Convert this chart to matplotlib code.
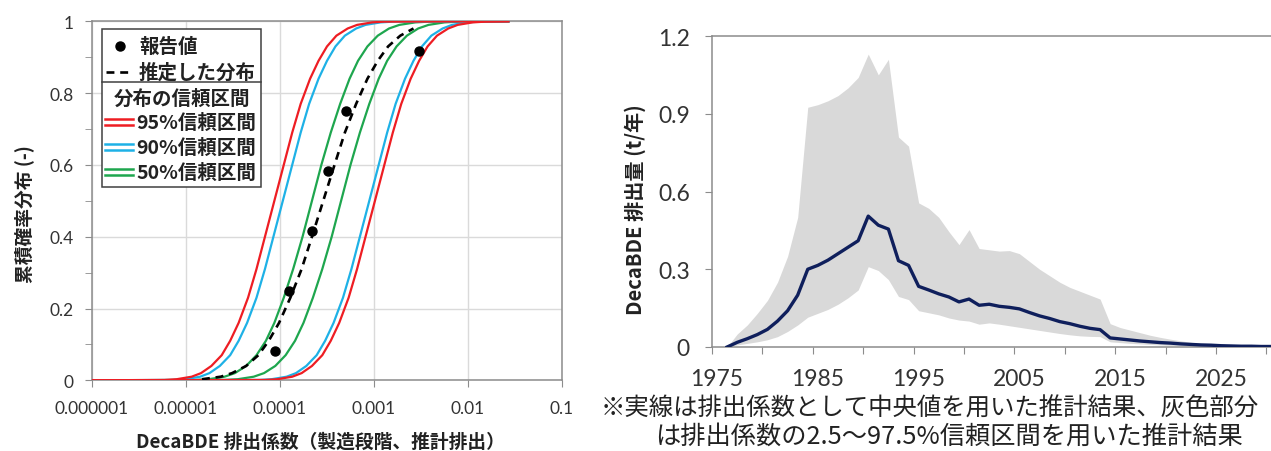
import numpy as np
import matplotlib.pyplot as plt
from matplotlib.patches import Rectangle
from matplotlib.ticker import NullLocator

plt.rcParams['font.family'] = ['Lato', 'Noto Sans CJK JP', 'DejaVu Sans']
JP = ['Noto Sans CJK JP', 'DejaVu Sans']

# ---- left chart: reported emission factors and fitted distribution ----
rep_x = [8.9e-5, 1.25e-4, 2.2e-4, 3.25e-4, 5.0e-4, 3.0e-3]
rep_p = [0.083, 0.25, 0.417, 0.583, 0.75, 0.917]

cdf_p = [0, 0.001, 0.003, 0.01, 0.02, 0.04, 0.07, 0.11, 0.16, 0.23, 0.31, 0.4, 0.5,
         0.6, 0.69, 0.77, 0.84, 0.89, 0.93, 0.96, 0.98, 0.99, 0.997, 0.999, 1]
# log10(emission factor) of each curve at those levels
red_lo = [-6, -5.23, -5.10, -4.94, -4.84, -4.73, -4.62, -4.53, -4.44, -4.34, -4.25, -4.16, -4.06,
          -3.96, -3.87, -3.78, -3.68, -3.59, -3.50, -3.40, -3.28, -3.18, -3.02, -2.89, -1.57]
blue_lo = [-6, -5.14, -5.01, -4.85, -4.75, -4.64, -4.53, -4.44, -4.35, -4.25, -4.16, -4.07, -3.97,
           -3.87, -3.78, -3.69, -3.59, -3.50, -3.41, -3.31, -3.19, -3.09, -2.93, -2.80, -1.57]
green_lo = [-6, -4.90, -4.76, -4.59, -4.48, -4.36, -4.25, -4.15, -4.06, -3.96, -3.86, -3.76, -3.66,
            -3.56, -3.46, -3.36, -3.26, -3.17, -3.07, -2.96, -2.84, -2.73, -2.56, -2.42, -1.57]
fitted = [None, None, -4.83, -4.63, -4.51, -4.36, -4.23, -4.12, -4.01, -3.89, -3.77, -3.66, -3.54,
          -3.42, -3.31, -3.19, -3.07, -2.96, -2.85, -2.72, -2.58, None, None, None, None]
green_hi = [-6, -4.59, -4.45, -4.28, -4.17, -4.05, -3.94, -3.84, -3.75, -3.65, -3.55, -3.45, -3.35,
            -3.25, -3.15, -3.05, -2.95, -2.86, -2.76, -2.65, -2.53, -2.42, -2.25, -2.11, -1.57]
blue_hi = [-6, -4.22, -4.09, -3.93, -3.83, -3.72, -3.61, -3.52, -3.43, -3.33, -3.24, -3.15, -3.05,
           -2.95, -2.86, -2.77, -2.67, -2.58, -2.49, -2.39, -2.27, -2.17, -2.01, -1.88, -1.57]
red_hi = [-6, -4.16, -4.03, -3.87, -3.77, -3.66, -3.55, -3.46, -3.37, -3.27, -3.18, -3.09, -2.99,
          -2.89, -2.80, -2.71, -2.61, -2.52, -2.43, -2.33, -2.21, -2.11, -1.95, -1.82, -1.57]

x_ticks = [1e-6, 1e-5, 1e-4, 1e-3, 1e-2, 1e-1]
x_ticklabels = ['0.000001', '0.00001', '0.0001', '0.001', '0.01', '0.1']

# ---- right chart: yearly DecaBDE emission (t/year) ----
years = list(range(1976, 2031))
median = [0.0, 0.018, 0.032, 0.048, 0.068, 0.10, 0.14, 0.20, 0.30, 0.315,
          0.335, 0.36, 0.385, 0.41, 0.505, 0.47, 0.455, 0.333, 0.315, 0.234,
          0.22, 0.205, 0.193, 0.174, 0.185, 0.161, 0.165, 0.157, 0.153, 0.147,
          0.133, 0.12, 0.11, 0.098, 0.09, 0.08, 0.072, 0.067, 0.035, 0.031,
          0.027, 0.023, 0.02, 0.017, 0.015, 0.012, 0.01, 0.008, 0.007, 0.005,
          0.004, 0.003, 0.003, 0.002, 0.002]
upper = [0.0, 0.05, 0.085, 0.13, 0.18, 0.25, 0.35, 0.50, 0.925, 0.935,
         0.95, 0.97, 1.0, 1.04, 1.13, 1.05, 1.11, 0.81, 0.775, 0.556,
         0.535, 0.50, 0.445, 0.395, 0.453, 0.38, 0.375, 0.37, 0.372, 0.36,
         0.33, 0.30, 0.275, 0.25, 0.23, 0.215, 0.20, 0.185, 0.09, 0.075,
         0.065, 0.055, 0.045, 0.037, 0.03, 0.024, 0.018, 0.013, 0.01, 0.008,
         0.006, 0.005, 0.004, 0.003, 0.003]
lower = [0.0, 0.008, 0.014, 0.02, 0.028, 0.04, 0.06, 0.085, 0.115, 0.13,
         0.145, 0.165, 0.19, 0.22, 0.31, 0.295, 0.26, 0.195, 0.183, 0.14,
         0.132, 0.124, 0.112, 0.104, 0.10, 0.088, 0.093, 0.088, 0.082, 0.076,
         0.07, 0.064, 0.058, 0.052, 0.047, 0.043, 0.041, 0.04, 0.02, 0.017,
         0.014, 0.012, 0.01, 0.008, 0.006, 0.005, 0.004, 0.003, 0.002, 0.002,
         0.001, 0.001, 0.001, 0.001, 0.001]
year_labels = [1975, 1985, 1995, 2005, 2015, 2025]

W, H = 1271, 452
fig = plt.figure(figsize=(W / 100, H / 100), dpi=100)

RED, BLUE, GREEN = '#ee1d23', '#1eb1e6', '#1ea64e'
AXC = '#8c8c8c'

# ---------------- left chart ----------------
ax = fig.add_axes([92 / W, 1 - 381.3 / H, 470 / W, 359 / H])
ax.set_xscale('log')
p = np.array(cdf_p)
for curve, col, z in [(green_lo, GREEN, 2), (green_hi, GREEN, 2),
                      (blue_lo, BLUE, 3), (blue_hi, BLUE, 3),
                      (red_lo, RED, 4), (red_hi, RED, 4)]:
    ax.plot(np.power(10.0, curve), p, color=col, lw=1.6, zorder=z,
            solid_joinstyle='round')
fx = np.array([v for v in fitted if v is not None])
fp = np.array([q for q, v in zip(cdf_p, fitted) if v is not None])
ax.plot(np.power(10.0, fx), fp, color='black', lw=1.9, ls=(0, (3, 2.2)), zorder=5)
ax.plot(rep_x, rep_p, 'o', color='black', ms=6.5, zorder=6)

ax.set_xlim(1e-6, 1e-1)
ax.set_ylim(0, 1)
ax.set_xticks(x_ticks)
ax.set_xticklabels(x_ticklabels)
ax.xaxis.set_minor_locator(NullLocator())
ax.set_yticks([0, 0.2, 0.4, 0.6, 0.8, 1.0])
ax.set_yticklabels(['0', '0.2', '0.4', '0.6', '0.8', '1'])
ax.set_yticks(np.arange(0.1, 1.0, 0.2), minor=True)
ax.grid(True, which='major', color='#dadada', lw=1)
ax.set_axisbelow(True)
for s in ax.spines.values():
    s.set_color(AXC)
    s.set_linewidth(1.1)
ax.tick_params(which='both', direction='out', length=5, color=AXC,
               labelsize=12.5, labelcolor='#333333')
ax.tick_params(axis='x', pad=9)
ax.tick_params(axis='y', pad=8)

# ---------------- right chart ----------------
ax2 = fig.add_axes([712 / W, 1 - 348 / H, (W - 712) / W, 311 / H])
pos = np.array(years) + 0.5
ax2.fill_between(pos, lower, upper, color='#d9d9d9', lw=0, zorder=1)
ax2.plot(pos, median, color='#0f1f5c', lw=2.4, zorder=3, solid_joinstyle='round')
ax2.set_xlim(1975, 1975 + (W - 712) / 10.08)
ax2.set_ylim(0, 1.2)
ax2.set_yticks([0, 0.3, 0.6, 0.9, 1.2])
ax2.set_yticklabels(['0', '0.3', '0.6', '0.9', '1.2'])
ax2.set_xticks(np.arange(1975, 2031, 5))
ax2.set_xticklabels([])
ax2.set_xticks(np.array(year_labels) + 0.5, minor=True)
ax2.set_xticklabels([str(y) for y in year_labels], minor=True)
ax2.spines['right'].set_visible(False)
for s in ['left', 'top', 'bottom']:
    ax2.spines[s].set_color(AXC)
    ax2.spines[s].set_linewidth(1.1)
ax2.tick_params(which='major', direction='out', length=5, color=AXC,
                labelsize=16.5, labelcolor='#333333')
ax2.tick_params(axis='y', pad=11)
ax2.tick_params(axis='x', which='minor', length=0, pad=15,
                labelsize=16.5, labelcolor='#333333')

# ---------------- overlay: labels, legend, caption ----------------
ov = fig.add_axes([0, 0, 1, 1], zorder=10)
ov.set_xlim(0, W)
ov.set_ylim(H, 0)
ov.axis('off')
ov.patch.set_alpha(0)

ov.text(25, 214, '累積確率分布 (-)', rotation=90, ha='center', va='center',
        fontsize=13.5, fontweight='bold', family=JP, color='#222222')
ov.text(320, 442, 'DecaBDE 排出係数（製造段階、推計排出）', ha='center', va='center',
        fontsize=13.5, fontweight='bold', family=JP, color='#222222')
ov.text(635, 210, 'DecaBDE 排出量 (t/年)', rotation=90, ha='center', va='center',
        fontsize=14.5, fontweight='bold', family=JP, color='#222222')

# legend box
ov.add_patch(Rectangle((102, 30), 159, 158, facecolor='white',
                       edgecolor='#404040', lw=1.1))
ov.plot([102, 261], [83, 83], color='#404040', lw=1.1)
ov.plot([120], [47], 'o', color='black', ms=6.5)
ov.plot([106, 132], [73, 73], color='black', lw=1.9, ls=(0, (3, 2.2)))
lkw = dict(va='center', fontsize=14, fontweight='bold', family=JP, color='#222222')
ov.text(139, 47, '報告値', ha='left', **lkw)
ov.text(139, 73, '推定した分布', ha='left', **lkw)
ov.text(182, 99, '分布の信頼区間', ha='center', **lkw)
for yy, col, lab in [(123, RED, '95%信頼区間'), (148, BLUE, '90%信頼区間'),
                     (173, GREEN, '50%信頼区間')]:
    ov.plot([105, 133], [yy - 2.6, yy - 2.6], color=col, lw=1.8)
    ov.plot([105, 133], [yy + 2.6, yy + 2.6], color=col, lw=1.8)
    ov.text(136, yy, lab, ha='left', **lkw)

# caption under the right chart
ckw = dict(va='center', family=JP, color='#222222')
ov.text(601, 409, '※実線は排出係数として中央値を用いた推計結果、灰色部分', ha='left',
        fontsize=17.6, **ckw)
ov.text(949, 437, 'は排出係数の2.5～97.5%信頼区間を用いた推計結果', ha='center',
        fontsize=18.2, **ckw)

fig.savefig('out.png', dpi=100)
